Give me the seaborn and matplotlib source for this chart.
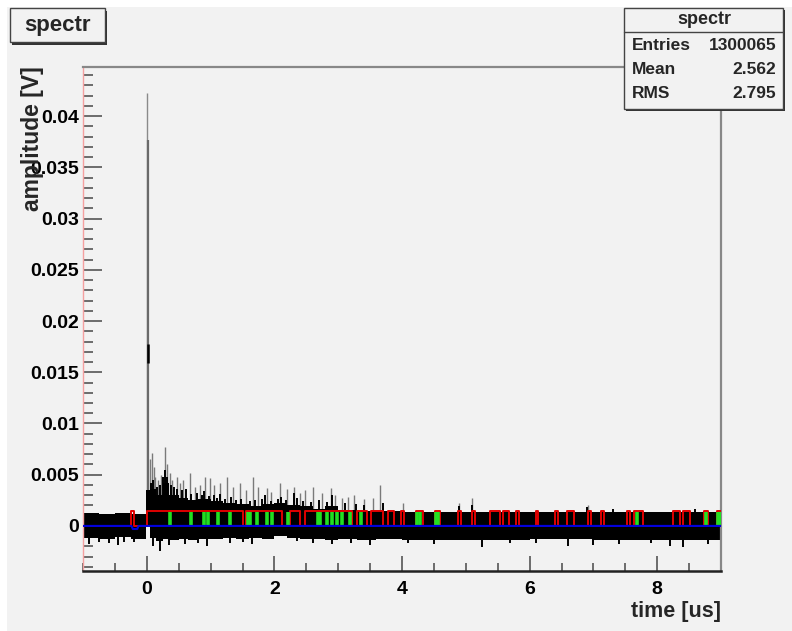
"""
Re-draw of the ROOT canvas "spectr": amplitude trace vs time, with the
red / green / blue overlay histograms and the ROOT style title + stats box.
"""

import matplotlib
matplotlib.use("Agg")
import matplotlib.pyplot as plt
from matplotlib.patches import Rectangle
from matplotlib.ticker import MultipleLocator, FuncFormatter
import pandas as pd
import seaborn as sns

# ---- values ----------------------------------------------------------------
# black noise band: segment edges and lower/upper envelope per segment
band_x = [-1.0, -0.75, -0.5, -0.25, -0.02, 0.05, 0.15, 0.25, 0.35, 0.5, 0.65,
          0.8, 1.0, 1.2, 1.4, 1.6, 1.8, 2.0, 2.2, 2.4, 2.6, 2.8, 3.0, 3.3,
          3.6, 4.0, 5.0, 6.0, 7.0, 8.0, 9.0]
band_hi = [0.0013, 0.0012, 0.0013, 0.0012, 0.0035, 0.0036, 0.0030, 0.0042,
           0.0030, 0.0027, 0.0025, 0.0026, 0.0024, 0.0022, 0.0021, 0.0019,
           0.0021, 0.0022, 0.0020, 0.0019, 0.0017, 0.0019, 0.0016, 0.0015,
           0.0015, 0.0014, 0.0014, 0.0014, 0.0014, 0.0014]
band_lo = [-0.0012, -0.0013, -0.0011, -0.0013, 0.0, -0.0012, -0.0015, -0.0013,
           -0.0014, -0.0013, -0.0014, -0.0013, -0.0013, -0.0012, -0.0013,
           -0.0012, -0.0013, -0.0010, -0.0012, -0.0013, -0.0013, -0.0014,
           -0.0013, -0.0014, -0.0013, -0.0014, -0.0014, -0.0013, -0.0014,
           -0.0014]

# black bits sticking out of the band
blk_up_x = [0.07, 0.10, 0.16, 0.20, 0.26, 0.28, 0.32, 0.38, 0.42, 0.48, 0.55,
            0.62, 0.70, 0.78, 0.86, 0.90, 0.97, 1.05, 1.10, 1.15, 1.22, 1.32,
            1.40, 1.48, 1.62, 1.70, 1.80, 1.85, 1.95, 2.05, 2.10, 2.18, 2.30,
            2.36, 2.45, 2.58, 2.70, 2.82, 2.90, 3.10, 3.28, 3.40, 3.70, 4.90,
            5.10, 6.90, 7.30, 8.60]
blk_up_top = [0.0042, 0.0045, 0.0038, 0.0040, 0.0048, 0.0055, 0.0048, 0.0040,
              0.0038, 0.0036, 0.0035, 0.0036, 0.0031, 0.0032, 0.0030, 0.0034,
              0.0029, 0.0030, 0.0027, 0.0031, 0.0026, 0.0028, 0.0025, 0.0026,
              0.0024, 0.0025, 0.0026, 0.0030, 0.0024, 0.0026, 0.0028, 0.0025,
              0.0032, 0.0027, 0.0024, 0.0023, 0.0025, 0.0023, 0.0030, 0.0022,
              0.0021, 0.0020, 0.0022, 0.0019, 0.0020, 0.0018, 0.0017, 0.0017]
blk_dn_x = [-0.90, -0.75, -0.60, -0.45, -0.35, -0.20, 0.10, 0.20, 0.35, 0.60,
            0.80, 0.95, 1.30, 1.50, 1.65, 2.35, 2.60, 2.90, 3.20, 3.50, 4.10,
            4.50, 5.25, 5.70, 6.10, 6.60, 7.00, 7.40, 7.90, 8.20, 8.40, 8.80]
blk_dn_bot = [-0.0018, -0.0016, -0.0017, -0.0019, -0.0016, -0.0016, -0.0020,
              -0.0024, -0.0019, -0.0018, -0.0017, -0.0020, -0.0017, -0.0016,
              -0.0018, -0.0015, -0.0017, -0.0018, -0.0017, -0.0019, -0.0017,
              -0.0018, -0.0021, -0.0017, -0.0017, -0.0020, -0.0019, -0.0018,
              -0.0017, -0.0020, -0.0021, -0.0018]

# thin grey spikes (the two big ones are the pulse at t = 0)
spike_x = [0.00, 0.02, 0.05, 0.08, 0.11, 0.13, 0.18, 0.22, 0.28, 0.31, 0.36,
           0.40, 0.47, 0.52, 0.57, 0.68, 0.75, 0.83, 0.91, 0.99, 1.05, 1.15,
           1.26, 1.35, 1.46, 1.55, 1.67, 1.75, 1.88, 1.95, 2.09, 2.20, 2.30,
           2.40, 2.48, 2.61, 2.75, 2.88, 2.95, 3.06, 3.15, 3.24, 3.40, 3.55,
           3.66, 4.02, 4.89, 5.10, 6.92]
spike_top = [0.0423, 0.0377, 0.0065, 0.0071, 0.0058, 0.0048, 0.0045, 0.0050,
             0.0077, 0.0060, 0.0052, 0.0045, 0.0048, 0.0042, 0.0045, 0.0052,
             0.0038, 0.0040, 0.0048, 0.0047, 0.0040, 0.0042, 0.0048, 0.0038,
             0.0042, 0.0035, 0.0048, 0.0038, 0.0037, 0.0033, 0.0042, 0.0036,
             0.0038, 0.0032, 0.0035, 0.0038, 0.0032, 0.0037, 0.0030, 0.0027,
             0.0028, 0.0030, 0.0026, 0.0027, 0.0040, 0.0022, 0.0022, 0.0027,
             0.0020]
peak_stub = (0.02, 0.0159, 0.0178)   # darker piece on the main pulse

# red overlay: intervals where it sits at red_level (0 elsewhere)
red_level = 0.0015
red_start = [-0.25, 0.00, 1.55, 2.25, 2.48, 3.30, 3.52, 3.78, 3.98, 4.22,
             4.51, 4.88, 5.10, 5.38, 5.59, 5.78, 6.10, 6.40, 6.58, 6.91, 7.12,
             7.52, 7.63, 8.25, 8.41, 8.73, 8.93]
red_end = [-0.20, 1.50, 2.12, 2.40, 3.22, 3.45, 3.70, 3.88, 4.03, 4.33, 4.59,
           4.93, 5.15, 5.53, 5.67, 5.83, 6.13, 6.45, 6.70, 6.97, 7.17, 7.57,
           7.78, 8.36, 8.52, 8.80, 9.00]

# green overlay: narrow bars
green_level = 0.0014
green_x = [0.37, 0.70, 0.90, 0.96, 1.12, 1.30, 1.58, 1.62, 1.72, 1.88, 1.96,
           2.22, 2.68, 2.72, 2.82, 2.90, 2.98, 3.06, 3.19, 3.35, 4.24, 4.28,
           4.53, 4.57, 7.68, 8.77, 8.95, 8.99]

# blue overlay: baseline with one small dip
blue_x = [-1.0, -0.24, -0.22, -0.15, -0.13, 9.0]
blue_y = [0.0, 0.0, -0.0003, -0.0003, 0.0, 0.0]

stats = [("Entries", "1300065"), ("Mean", "2.562"), ("RMS", "2.795")]

# ---- style -------------------------------------------------------------------
sns.set_theme(style="ticks")
plt.rcParams["font.family"] = ["Liberation Sans", "DejaVu Sans"]
plt.rcParams["font.weight"] = "bold"

W, H = 792, 631
BG = "#f2f2f2"


def fx(px):
    return px / W


def fy(py):
    return 1 - py / H


fig = plt.figure(figsize=(W / 100, H / 100), dpi=100)
fig.patch.set_facecolor("white")
fig.patches.append(Rectangle((fx(7), 0), 1, fy(7), transform=fig.transFigure,
                             facecolor=BG, edgecolor="none", zorder=-10))

ax = fig.add_axes([fx(83), fy(571), fx(721) - fx(83), fy(67) - fy(571)])
ax.set_facecolor(BG)

# grey spikes under everything
ax.vlines(spike_x[2:], 0, spike_top[2:], color="#7a7a7a", lw=1.0, zorder=1)
ax.vlines(spike_x[0], 0, spike_top[0], color="#8a8a8a", lw=1.0, zorder=1)
ax.vlines(spike_x[1], 0, spike_top[1], color="#6a6a6a", lw=1.6, zorder=1)
ax.vlines(peak_stub[0], peak_stub[1], peak_stub[2], color="black", lw=1.8, zorder=2)

# black band
ax.fill_between(band_x, band_lo + [band_lo[-1]], band_hi + [band_hi[-1]],
                step="post", color="black", lw=0, zorder=2)
ax.vlines(blk_up_x, 0, blk_up_top, color="black", lw=1.4, zorder=2)
ax.vlines(blk_dn_x, blk_dn_bot, 0, color="black", lw=1.4, zorder=2)

# red overlay built from its on-intervals
rx, ry = [-1.0], [0.0]
for a, b in zip(red_start, red_end):
    rx += [a, a, b, b]
    ry += [0.0, red_level, red_level, 0.0]
rx.append(9.0)
ry.append(0.0)
red_df = pd.DataFrame({"t": rx, "amp": ry})
sns.lineplot(data=red_df, x="t", y="amp", sort=False, estimator=None,
             color="#e00000", lw=1.4, ax=ax, zorder=3)

ax.vlines(green_x, 0, green_level, color="#22e022", lw=2.6, zorder=3)

blue_df = pd.DataFrame({"t": blue_x, "amp": blue_y})
sns.lineplot(data=blue_df, x="t", y="amp", sort=False, estimator=None,
             color="#0000dd", lw=1.5, ax=ax, zorder=4)

ax.set_xlim(-1, 9)
ax.set_ylim(-0.0044, 0.0448)
ax.set_xlabel("")
ax.set_ylabel("")

ax.xaxis.set_major_locator(MultipleLocator(2))
ax.xaxis.set_minor_locator(MultipleLocator(0.5))
ax.yaxis.set_major_locator(MultipleLocator(0.005))
ax.yaxis.set_minor_locator(MultipleLocator(0.001))
ax.yaxis.set_major_formatter(FuncFormatter(lambda v, p: f"{v:g}" if abs(v) > 1e-9 else "0"))
ax.xaxis.set_major_formatter(FuncFormatter(lambda v, p: f"{v:g}"))

ax.tick_params(axis="y", which="major", direction="in", length=14, width=1.2,
               color="#555555", labelsize=14, pad=3, labelcolor="black")
ax.tick_params(axis="y", which="minor", direction="in", length=7, width=1.2,
               color="#555555")
ax.tick_params(axis="x", which="major", direction="in", length=11, width=1.2,
               color="#555555", labelsize=14, pad=7, labelcolor="black")
ax.tick_params(axis="x", which="minor", direction="in", length=6, width=1.2,
               color="#555555")

ax.spines["left"].set_color("#f4a0a0")
ax.spines["left"].set_linewidth(1.0)
ax.spines["bottom"].set_color("#222222")
ax.spines["bottom"].set_linewidth(1.8)
for s in ("top", "right"):
    ax.spines[s].set_color("#888888")
    ax.spines[s].set_linewidth(1.6)

# axis titles, ROOT style placement
fig.text(fx(33), fy(66), "amplitude [V]", rotation=90, ha="center", va="top",
         fontsize=16.5, fontweight="bold")
fig.text(fx(721), fy(611), "time [us]", ha="right", va="center",
         fontsize=15.5, fontweight="bold")

# title box with shadow
fig.patches.append(Rectangle((fx(12), fy(45)), fx(95), fy(8) - fy(42),
                             transform=fig.transFigure, facecolor="#333333",
                             edgecolor="none", zorder=5))
fig.patches.append(Rectangle((fx(10), fy(42)), fx(95), fy(8) - fy(42),
                             transform=fig.transFigure, facecolor=BG,
                             edgecolor="#444444", lw=1.0, zorder=5))
fig.text(fx(57), fy(25), "spectr", ha="center", va="center", fontsize=16,
         fontweight="bold", zorder=6)

# stats box
fig.patches.append(Rectangle((fx(626), fy(111)), fx(783 - 624), fy(8) - fy(109),
                             transform=fig.transFigure, facecolor="#333333",
                             edgecolor="none", zorder=5))
fig.patches.append(Rectangle((fx(624), fy(109)), fx(783 - 624), fy(8) - fy(109),
                             transform=fig.transFigure, facecolor=BG,
                             edgecolor="#444444", lw=1.0, zorder=5))
fig.lines.append(plt.Line2D([fx(624), fx(783)], [fy(32), fy(32)],
                            transform=fig.transFigure, color="#444444", lw=1.0,
                            zorder=6))
fig.text(fx(704), fy(20), "spectr", ha="center", va="center", fontsize=13,
         fontweight="bold", zorder=6)
for i, (name, val) in enumerate(stats):
    yy = fy(46 + i * 24)
    fig.text(fx(632), yy, name, ha="left", va="center", fontsize=12.5,
             fontweight="bold", zorder=6)
    fig.text(fx(776), yy, val, ha="right", va="center", fontsize=12.5,
             fontweight="bold", zorder=6)

fig.savefig("out.png", dpi=100, facecolor=fig.get_facecolor())
